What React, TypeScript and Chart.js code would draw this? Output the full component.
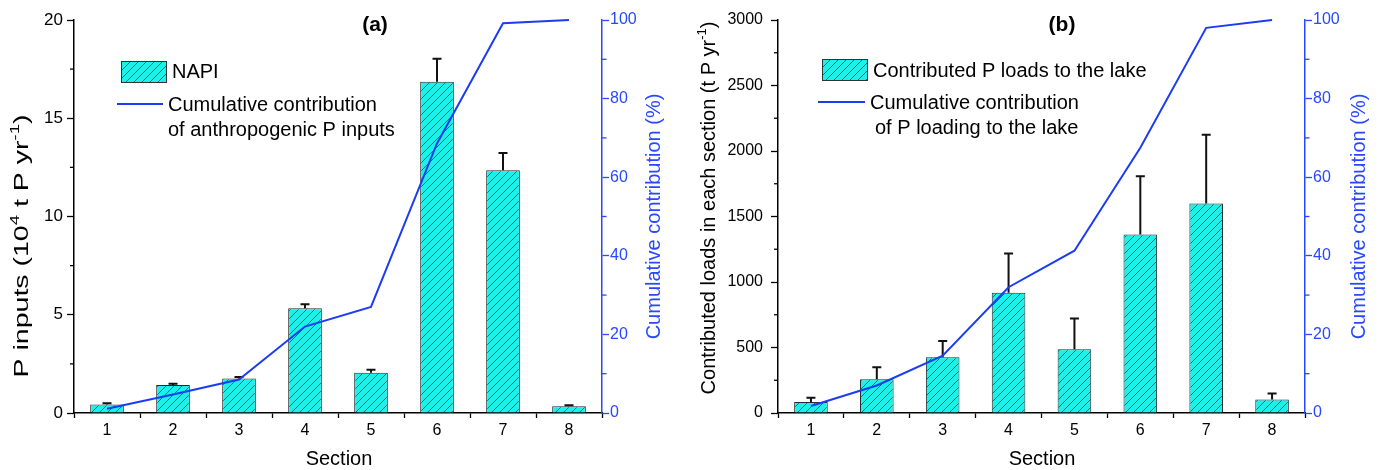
import React, { useEffect, useRef } from 'react';
import { Chart, registerables } from 'chart.js';

Chart.register(...registerables);

const FONT = '"Liberation Sans", Arial, Helvetica, sans-serif';
Chart.defaults.font.family = FONT;

// ---------- data ----------
const sections = ['1', '2', '3', '4', '5', '6', '7', '8'];

// Panel (a): NAPI (10^4 t P / yr)
const napiValues = [0.43, 1.42, 1.76, 5.33, 2.05, 16.86, 12.35, 0.34];
const napiErrors = [0.07, 0.07, 0.07, 0.2, 0.15, 1.17, 0.88, 0.05];
const napiCumulative = [1.1, 4.7, 8.5, 22.0, 27.0, 68.6, 99.2, 100];

// Panel (b): contributed loads (t P / yr)
const loadValues = [84, 257, 425, 918, 486, 1363, 1600, 104];
const loadErrors = [33, 92, 124, 300, 236, 445, 525, 44];
const loadCumulative = [1.8, 7.0, 14.6, 32.0, 41.3, 67.5, 98.0, 100];

const napiAxisMax = 20;
const napiAxisStep = 5;
const loadAxisMax = 3000;
const loadAxisStep = 500;
const cumAxisMax = 100;
const cumAxisStep = 20;

// ---------- styles ----------
const CYAN = '#1eefeb';
const HATCH = 'rgba(20,70,70,0.85)';
const BLUE = '#2848ff';
const LINE_BLUE = '#1d3cf2';

type Part = { t: string; sup?: boolean };

interface PanelSpec {
  offset: number;
  tag: string;
  tagX: number;
  values: number[];
  errors: number[];
  cumulative: number[];
  yMax: number;
  yStep: number;
  yTickSize: number;
  yTickPadding: number;
  leftWidth: number;
  rightWidth: number;
  leftTitle: Part[];
  leftTitleX: number;
  leftTitleY: number;
  leftTitleLen?: number;
  rightTitleX: number;
  xTitleX: number;
  barLabel: string;
  lineLabel: string[];
  boxX: number;
  boxY: number;
  boxTextX: number;
  boxTextY: number;
  lineX1: number;
  lineX2: number;
  lineY: number;
  lineTextX: number[];
  lineTextY: number[];
}

const panelA: PanelSpec = {
  offset: 0,
  tag: '(a)',
  tagX: 375,
  values: napiValues,
  errors: napiErrors,
  cumulative: napiCumulative,
  yMax: napiAxisMax,
  yStep: napiAxisStep,
  yTickSize: 17,
  yTickPadding: 4,
  leftWidth: 74,
  rightWidth: 88,
  leftTitle: [{ t: 'P inputs (10' }, { t: '4', sup: true }, { t: ' t P yr' }, { t: '-1', sup: true }, { t: ')' }],
  leftTitleX: 22,
  leftTitleY: 246,
  leftTitleLen: 263,
  rightTitleX: 654,
  xTitleX: 339,
  barLabel: 'NAPI',
  lineLabel: ['Cumulative contribution', 'of anthropogenic P inputs'],
  boxX: 121,
  boxY: 61,
  boxTextX: 172,
  boxTextY: 72,
  lineX1: 117,
  lineX2: 163,
  lineY: 104,
  lineTextX: [168, 168],
  lineTextY: [105, 130],
};

const panelB: PanelSpec = {
  offset: 690,
  tag: '(b)',
  tagX: 372,
  values: loadValues,
  errors: loadErrors,
  cumulative: loadCumulative,
  yMax: loadAxisMax,
  yStep: loadAxisStep,
  yTickSize: 16,
  yTickPadding: 8,
  leftWidth: 88,
  rightWidth: 75,
  leftTitle: [{ t: 'Contributed loads in each section (t P yr' }, { t: '-1', sup: true }, { t: ')' }],
  leftTitleX: 19,
  leftTitleY: 208,
  rightTitleX: 669,
  xTitleX: 352,
  barLabel: 'Contributed P loads to the lake',
  lineLabel: ['Cumulative contribution', 'of P loading to the lake'],
  boxX: 132,
  boxY: 59,
  boxTextX: 183,
  boxTextY: 71,
  lineX1: 128,
  lineX2: 175,
  lineY: 102,
  lineTextX: [180, 185],
  lineTextY: [103, 128],
};

function makeHatch(): CanvasPattern | string {
  const c = document.createElement('canvas');
  c.width = 8;
  c.height = 8;
  const g = c.getContext('2d');
  if (!g) return CYAN;
  g.fillStyle = CYAN;
  g.fillRect(0, 0, 8, 8);
  g.strokeStyle = HATCH;
  g.lineWidth = 0.9;
  g.beginPath();
  g.moveTo(-1, 9);
  g.lineTo(9, -1);
  g.moveTo(-1, 1);
  g.lineTo(1, -1);
  g.moveTo(7, 9);
  g.lineTo(9, 7);
  g.stroke();
  return g.createPattern(c, 'repeat') || CYAN;
}

function drawRotated(ctx: CanvasRenderingContext2D, parts: Part[], cx: number, cy: number, size: number, color: string, targetLen?: number) {
  ctx.save();
  ctx.translate(cx, cy);
  ctx.rotate(-Math.PI / 2);
  const base = `${size}px ${FONT}`;
  const sup = `${Math.round(size * 0.65)}px ${FONT}`;
  let w = 0;
  for (const p of parts) {
    ctx.font = p.sup ? sup : base;
    w += ctx.measureText(p.t).width;
  }
  const s = targetLen ? targetLen / w : 1;
  ctx.scale(s, 1);
  ctx.fillStyle = color;
  ctx.textBaseline = 'middle';
  ctx.textAlign = 'left';
  let x = -w / 2;
  for (const p of parts) {
    ctx.font = p.sup ? sup : base;
    ctx.fillText(p.t, x, p.sup ? -size * 0.32 : 0);
    x += ctx.measureText(p.t).width;
  }
  ctx.restore();
}

function Panel({ spec }: { spec: PanelSpec }) {
  const ref = useRef<HTMLCanvasElement>(null);

  useEffect(() => {
    const canvas = ref.current;
    if (!canvas) return;
    const hatch = makeHatch();

    const overlay = {
      id: 'overlay' + spec.tag,
      afterDatasetDraw(chart: any, args: any) {
        if (args.index !== 0) return;
        const ctx: CanvasRenderingContext2D = chart.ctx;
        const yScale = chart.scales.y;
        const meta = chart.getDatasetMeta(0);
        ctx.save();
        ctx.strokeStyle = '#111';
        ctx.lineWidth = 2;
        meta.data.forEach((el: any, i: number) => {
          const x = el.x;
          const yTop = yScale.getPixelForValue(spec.values[i] + spec.errors[i]);
          ctx.beginPath();
          ctx.moveTo(x, el.y);
          ctx.lineTo(x, yTop);
          ctx.moveTo(x - 4.5, yTop);
          ctx.lineTo(x + 4.5, yTop);
          ctx.stroke();
        });
        ctx.restore();
      },
      afterDraw(chart: any) {
        const ctx: CanvasRenderingContext2D = chart.ctx;
        const area = chart.chartArea;
        const yS = chart.scales.y;
        const y1S = chart.scales.y1;
        ctx.save();
        // minor ticks
        ctx.lineWidth = 1.3;
        ctx.strokeStyle = '#000';
        for (let v = spec.yStep / 2; v < spec.yMax; v += spec.yStep) {
          const py = yS.getPixelForValue(v);
          ctx.beginPath();
          ctx.moveTo(area.left - 4, py);
          ctx.lineTo(area.left, py);
          ctx.stroke();
        }
        ctx.strokeStyle = BLUE;
        for (let v = cumAxisStep / 2; v < cumAxisMax; v += cumAxisStep) {
          const py = y1S.getPixelForValue(v);
          ctx.beginPath();
          ctx.moveTo(area.right, py);
          ctx.lineTo(area.right + 4.5, py);
          ctx.stroke();
        }

        // panel tag
        ctx.fillStyle = '#000';
        ctx.font = `bold 21px ${FONT}`;
        ctx.textAlign = 'center';
        ctx.textBaseline = 'middle';
        ctx.fillText(spec.tag, spec.tagX, 25);

        // x title
        ctx.font = `20px ${FONT}`;
        ctx.fillText('Section', spec.xTitleX, 459);

        // y titles
        drawRotated(ctx, spec.leftTitle, spec.leftTitleX, spec.leftTitleY, 20, '#000', spec.leftTitleLen);
        drawRotated(ctx, [{ t: 'Cumulative contribution (%)' }], spec.rightTitleX, (area.top + area.bottom) / 2, 20, BLUE);

        // legend
        ctx.fillStyle = hatch as any;
        ctx.fillRect(spec.boxX, spec.boxY, 45, 21);
        ctx.strokeStyle = '#333';
        ctx.lineWidth = 1;
        ctx.strokeRect(spec.boxX + 0.5, spec.boxY + 0.5, 45, 21);
        ctx.fillStyle = '#000';
        ctx.font = `20px ${FONT}`;
        ctx.textAlign = 'left';
        ctx.textBaseline = 'middle';
        ctx.fillText(spec.barLabel, spec.boxTextX, spec.boxTextY);
        ctx.strokeStyle = LINE_BLUE;
        ctx.lineWidth = 2;
        ctx.beginPath();
        ctx.moveTo(spec.lineX1, spec.lineY);
        ctx.lineTo(spec.lineX2, spec.lineY);
        ctx.stroke();
        spec.lineLabel.forEach((t, i) => {
          ctx.fillText(t, spec.lineTextX[i], spec.lineTextY[i]);
        });
        ctx.restore();
      },
    };

    const chart = new Chart(canvas, {
      type: 'bar',
      data: {
        labels: sections,
        datasets: [
          {
            type: 'bar',
            data: spec.values,
            yAxisID: 'y',
            backgroundColor: hatch as any,
            borderColor: '#2a2a2a',
            borderWidth: 1,
            categoryPercentage: 1,
            barPercentage: 0.51,
            order: 2,
          },
          {
            type: 'line',
            data: spec.cumulative,
            yAxisID: 'y1',
            borderColor: LINE_BLUE,
            borderWidth: 2,
            pointRadius: 0,
            tension: 0,
            fill: false,
            clip: false as any,
            order: 1,
          },
        ] as any,
      },
      options: {
        responsive: false,
        animation: false,
        layout: { padding: { top: 20, left: 0, right: 0, bottom: 0 } },
        plugins: {
          legend: { display: false },
          tooltip: { enabled: false },
          title: { display: false },
        },
        scales: {
          x: {
            type: 'category',
            offset: true,
            grid: { offset: true, drawOnChartArea: false, drawTicks: true, tickLength: 5, tickColor: '#000', tickWidth: 1.3 },
            border: { display: true, color: '#000', width: 1.5 },
            ticks: { color: '#000', font: { size: 16 }, padding: 3, maxRotation: 0 },
            afterFit: (s: any) => {
              s.height = 57;
            },
          },
          y: {
            position: 'left',
            min: 0,
            max: spec.yMax,
            ticks: {
              stepSize: spec.yStep,
              color: '#000',
              font: { size: spec.yTickSize },
              padding: spec.yTickPadding,
              callback: (v: any) => String(v),
            },
            grid: { drawOnChartArea: false, drawTicks: true, tickLength: 7, tickColor: '#000', tickWidth: 1.3 },
            border: { display: true, color: '#000', width: 1.5 },
            afterFit: (s: any) => {
              s.width = spec.leftWidth;
            },
          },
          y1: {
            position: 'right',
            min: 0,
            max: cumAxisMax,
            ticks: {
              stepSize: cumAxisStep,
              color: BLUE,
              font: { size: 16 },
              padding: 1,
              callback: (v: any) => String(v),
            },
            grid: { drawOnChartArea: false, drawTicks: true, tickLength: 7, tickColor: BLUE, tickWidth: 1.3 },
            border: { display: true, color: BLUE, width: 1.5 },
            afterFit: (s: any) => {
              s.width = spec.rightWidth;
            },
          },
        } as any,
      },
      plugins: [overlay as any],
    });

    return () => chart.destroy();
  }, [spec]);

  return (
    <canvas
      ref={ref}
      width={690}
      height={470}
      style={{ position: 'absolute', left: spec.offset, top: 0, width: 690, height: 470 }}
    />
  );
}

export default function App() {
  return (
    <div style={{ position: 'absolute', left: 0, top: 0, width: 1380, height: 470, background: '#fff' }}>
      <Panel spec={panelA} />
      <Panel spec={panelB} />
    </div>
  );
}
